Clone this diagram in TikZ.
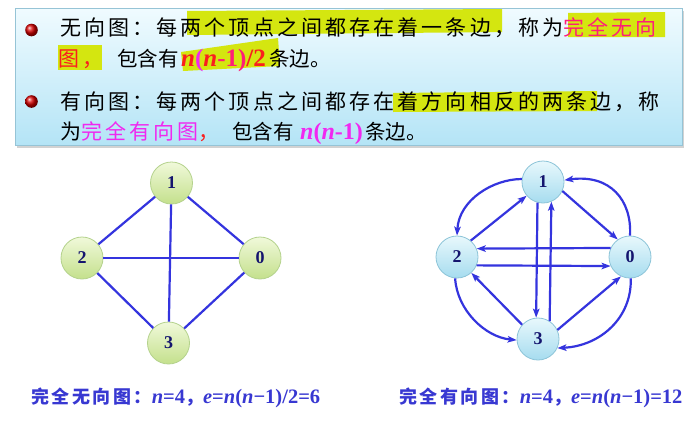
\documentclass[tikz,border=0pt]{standalone}
\usepackage{fontspec}
\setmainfont{Liberation Serif}
\newfontfamily\cjk[LetterSpace=14.8]{Noto Sans CJK SC}
\newfontfamily\cjkn[LetterSpace=0]{Noto Sans CJK SC}
\newfontfamily\cjkc[LetterSpace=14]{Noto Sans CJK SC}
\usetikzlibrary{arrows.meta,shadows}
\definecolor{edgeblue}{RGB}{52,52,222}
\definecolor{hl}{RGB}{212,230,16}
\definecolor{pinkred}{RGB}{255,30,120}
\definecolor{magent}{RGB}{240,40,240}
\definecolor{redt}{RGB}{250,30,30}
\definecolor{navy}{RGB}{20,20,110}
\definecolor{capblue}{RGB}{56,56,210}
\definecolor{boxtop}{RGB}{240,251,255}
\definecolor{boxbot}{RGB}{180,228,246}
\definecolor{boxline}{RGB}{150,196,214}
\definecolor{gtop}{RGB}{240,249,218}
\definecolor{gbot}{RGB}{196,224,140}
\definecolor{gline}{RGB}{180,210,140}
\definecolor{ctop}{RGB}{232,248,252}
\definecolor{cbot}{RGB}{166,220,239}
\definecolor{cline}{RGB}{140,196,216}
\tikzset{
  txt/.style={anchor=base west, inner sep=0pt, font=\fontsize{21}{24}\selectfont},
  ntxt/.style={anchor=base west, inner sep=0pt, font=\fontsize{20.5}{24}\selectfont},
  lat/.style={anchor=base west, inner sep=0pt, font=\fontsize{24}{24}\selectfont\bfseries},
  captxt/.style={anchor=base west, inner sep=0pt, text=capblue, font=\fontsize{20.5}{20}\selectfont\bfseries},
  gnode/.style={circle, minimum size=42pt, inner sep=0pt, draw=gline, line width=0.8pt,
    top color=gtop, bottom color=gbot, text=navy, font=\fontsize{18}{18}\selectfont\bfseries},
  cnode/.style={circle, minimum size=42pt, inner sep=0pt, draw=cline, line width=0.8pt,
    top color=ctop, bottom color=cbot, text=navy, font=\fontsize{18}{18}\selectfont\bfseries},
  ed/.style={draw=edgeblue, line width=2.2pt},
  ar/.style={ed, -{Stealth[length=9pt,width=6.5pt,inset=2pt]}},
}
\newcommand{\capcjk}[1]{{\cjkc\fontsize{18}{18}\selectfont #1}}
\begin{document}
\begin{tikzpicture}[x=1pt,y=-1pt]
\useasboundingbox (0,0) rectangle (692,442);
\fill[white] (0,0) rectangle (692,442);
% top box
\draw[boxline, line width=0.8pt, top color=boxtop, bottom color=boxbot,
  drop shadow={shadow xshift=2pt, shadow yshift=-3pt, opacity=0.35}] (15,8) rectangle (682,145);
% highlights
\fill[hl] (187,11) -- (502,9) -- (502,32) -- (187,35) -- cycle;
\fill[hl] (568,13) -- (665,12) -- (665,37) -- (568,37) -- cycle;
\fill[hl] (58,45) -- (102,45) -- (102,70) -- (58,70) -- cycle;
\fill[hl] (181,52) -- (278,38) -- (280,66) -- (183,71) -- cycle;
\fill[hl] (393,93) -- (597,91) -- (597,111) -- (393,112) -- cycle;
% bullets
\shade[ball color=red!85!black] (31.5,30) circle (6.3);
\shade[ball color=red!85!black] (31.5,101.5) circle (6.3);
% text lines
\node[txt] (l1) at (60,35.5) {\cjk 无向图：每两个顶点之间都存在着一条边，称为\textcolor{pinkred}{完全无向}};
\node[txt, text=redt] (l2a) at (58,66) {\cjk 图，};
\node[ntxt] (l2b) at (117,66) {\cjkn 包含有};
\node[lat, font=\fontsize{25}{25}\selectfont\bfseries] (l2c) at (181,66) {\textcolor{redt}{\itshape n}\textcolor{magent}{(}\textcolor{redt}{\itshape n}\textcolor{pinkred}{-1)}\textcolor{redt}{/2}};
\node[ntxt] (l2d) at (269,66) {\cjkn 条边。};
\node[txt] (l3) at (60,109.5) {\cjk 有向图：每两个顶点之间都存在着方向相反的两条边，称};
\node[txt] (l4a) at (60,139) {\cjk 为\textcolor{magent}{完全有向图}\textcolor{redt}{，}};
\node[ntxt] (l4b) at (232,139) {\cjkn 包含有};
\node[lat, text=magent] (l4c) at (300,139) {{\itshape n}({\itshape n}-1)};
\node[ntxt] (l4d) at (365,139) {\cjkn 条边。};
% undirected graph
\node[gnode] (a1) at (171.5,183) {1};
\node[gnode] (a2) at (82,258) {2};
\node[gnode] (a0) at (260,258) {0};
\node[gnode] (a3) at (168.5,343) {3};
\draw[ed] (a1) -- (a2);
\draw[ed] (a1) -- (a0);
\draw[ed] (a1) -- (a3);
\draw[ed] (a2) -- (a0);
\draw[ed] (a2) -- (a3);
\draw[ed] (a3) -- (a0);
% directed graph
\node[cnode] (b1) at (543,182) {1};
\node[cnode] (b2) at (457,257) {2};
\node[cnode] (b0) at (630,257) {0};
\node[cnode] (b3) at (538,339) {3};
\draw[ar] (b1.172) .. controls (493,179) and (459,200) .. (b2.90);
\draw[ar] (b2.50) -- (b1.220);
\draw[ar] (b1.-25) -- (b0.125);
\draw[ar] (b0.90) .. controls (632,200) and (610,174) .. (b1.5);
\draw[ar] (b0.155) -- (b2.23);
\draw[ar] (b2.-23) -- (b0.205);
\draw[ar] (b1.255) -- (b3.95);
\draw[ar] (b3.57) -- (b1.293);
\draw[ar] (b2.265) .. controls (457,310) and (485,337) .. (b3.183);
\draw[ar] (b3.138) -- (b2.-48);
\draw[ar] (b3.25) -- (b0.245);
\draw[ar] (b0.272) .. controls (632,318) and (600,346) .. (b3.-25);
% captions
\node[captxt] (c1) at (31,403) {\capcjk{完全无向图：}{\itshape n}=4\capcjk{，}{\itshape e}={\itshape n}({\itshape n}−1)/2=6};
\node[captxt] (c2) at (399,403) {\capcjk{完全有向图：}{\itshape n}=4\capcjk{，}{\itshape e}={\itshape n}({\itshape n}−1)=12};
\end{tikzpicture}
\end{document}
